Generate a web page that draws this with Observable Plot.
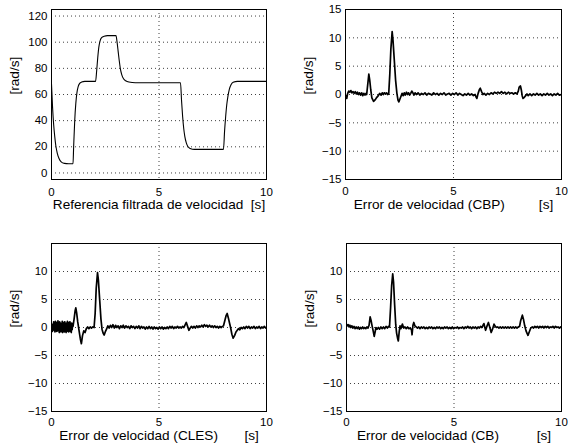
<!DOCTYPE html>
<html><head><meta charset="utf-8">
<script src="https://cdn.jsdelivr.net/npm/d3@7"></script>
<script src="https://cdn.jsdelivr.net/npm/@observablehq/plot@0.6"></script>
<style>
body{margin:0;background:#fff;}
#wrap{position:relative;width:568px;height:447px;overflow:hidden;background:#fff;}
.p{position:absolute;}
</style></head><body><div id="wrap"></div>
<script>
// ---- data ----
const xTicks = [0, 5, 10];
const refTicks = [0, 20, 40, 60, 80, 100, 120];
const errTicksTop = [-15, -10, -5, 0, 5, 10, 15];
const errTicksBottom = [-15, -10, -5, 0, 5, 10];

const refT = [0,0.05,0.1,0.15,0.2,0.27,0.35,0.45,0.6,0.8,1.0,1.03,1.08,1.13,1.18,1.24,1.31,1.4,1.55,2.05,2.1,2.15,2.2,2.26,2.33,2.45,2.6,3.0,3.05,3.1,3.15,3.2,3.27,3.35,3.45,3.6,3.9,6.0,6.05,6.1,6.15,6.2,6.27,6.35,6.45,6.65,8.0,8.05,8.1,8.15,8.2,8.27,8.35,8.45,8.65,10];
const refV = [68,50,37,28,21,15,11,8.5,7.3,7,7,20,40,53,61,66,68.5,69.5,70,70,78,88,96,101,103.5,104.5,105,105,100,93,86,80,75,72,70.5,69.5,69,69,55,43,34,28,23,20,18.7,18,18,32,43,52,58,64,67.5,69.3,70,70];

const errCBP = [[0,-0.6],[0.03,-0.2],[0.06,-0.7],[0.1,0.2],[0.15,0.6],[0.2,0.4],[0.25,0.7],[0.3,0.3],[0.35,0.5],[0.4,0.2],[0.45,0.5],[0.5,0.1],[0.55,0.4],[0.6,0.0],[0.65,0.3],[0.7,-0.1],[0.75,0.3],[0.8,-0.2],[0.85,0.2],[0.9,-0.1],[0.95,0.2],[0.98,0.0],[1.03,1.8],[1.08,3.6],[1.12,2.6],[1.17,0.8],[1.22,-0.6],[1.3,-1.2],[1.38,-0.9],[1.45,-0.5],[1.52,-0.2],[1.58,0.2],[1.65,-0.1],[1.7,0.3],[1.75,0.0],[1.8,0.3],[1.85,0.1],[1.9,0.3],[1.95,0.0],[2.0,0.1],[2.05,3.5],[2.1,8.0],[2.16,11.1],[2.2,9.5],[2.26,6.0],[2.32,2.5],[2.38,0.2],[2.43,-1.0],[2.47,-1.3],[2.52,-0.8],[2.57,-0.3],[2.62,0.2],[2.67,-0.2],[2.72,0.3],[2.77,-0.1],[2.82,0.4],[2.87,0.0],[2.92,0.3],[2.97,-0.1],[3.02,0.2],[3.07,0.6],[3.12,0.3],[3.17,-0.1],[3.22,0.3],[3.28,0.0],[3.36,0.3],[3.44,-0.1],[3.52,0.2],[3.6,0.0],[3.68,0.3],[3.76,-0.1],[3.84,0.2],[3.92,0.1],[4.0,-0.1],[4.08,0.3],[4.16,0.0],[4.24,0.2],[4.32,-0.1],[4.4,0.2],[4.48,0.0],[4.56,0.3],[4.64,-0.1],[4.72,0.1],[4.8,0.2],[4.88,-0.1],[4.96,0.2],[5.04,0.0],[5.12,0.3],[5.2,-0.1],[5.28,0.2],[5.36,0.0],[5.44,-0.2],[5.52,0.1],[5.6,-0.1],[5.68,0.2],[5.76,-0.1],[5.84,0.1],[5.92,-0.2],[6.0,0.0],[6.04,-0.4],[6.08,-0.7],[6.14,0.2],[6.2,0.9],[6.24,1.1],[6.3,0.5],[6.36,0.0],[6.42,0.2],[6.5,-0.1],[6.58,0.2],[6.66,0.0],[6.74,0.3],[6.82,0.1],[6.9,0.4],[6.98,0.2],[7.06,0.4],[7.14,0.2],[7.22,0.5],[7.3,0.2],[7.38,0.4],[7.46,0.1],[7.54,0.4],[7.62,0.2],[7.7,0.3],[7.78,0.1],[7.86,0.3],[7.94,0.1],[8.0,0.6],[8.04,1.3],[8.1,1.5],[8.14,0.8],[8.18,-0.2],[8.22,-0.7],[8.28,-0.5],[8.34,-0.2],[8.4,0.1],[8.46,-0.2],[8.54,0.1],[8.62,-0.2],[8.7,0.1],[8.78,-0.1],[8.86,0.2],[8.94,-0.1],[9.02,0.1],[9.1,-0.2],[9.18,0.1],[9.26,-0.1],[9.34,0.2],[9.42,-0.1],[9.5,0.1],[9.58,-0.2],[9.66,0.1],[9.74,-0.1],[9.82,0.2],[9.9,-0.1],[10,0.0]];

const errCLES = [[0,-0.6],[0.02,-0.2],[0.04,-0.7],[0.06,0.6],[0.08,-0.5],[0.1,1.0],[0.12,-0.4],[0.14,0.7],[0.16,-0.8],[0.18,1.1],[0.2,-0.3],[0.22,0.9],[0.24,-0.7],[0.26,0.5],[0.28,-0.6],[0.3,1.2],[0.32,-0.5],[0.34,0.7],[0.36,-0.9],[0.38,1.0],[0.4,-0.3],[0.42,0.8],[0.44,-0.8],[0.46,0.6],[0.48,-0.5],[0.5,1.1],[0.52,-0.9],[0.54,0.7],[0.56,-0.6],[0.58,0.9],[0.6,-0.8],[0.62,1.0],[0.64,-0.4],[0.66,0.6],[0.68,-0.9],[0.7,0.8],[0.72,-0.7],[0.74,1.1],[0.76,-0.5],[0.78,0.7],[0.8,-0.8],[0.82,0.9],[0.84,-0.6],[0.86,1.0],[0.88,-0.7],[0.9,0.5],[0.92,-0.9],[0.94,0.8],[0.96,-0.4],[0.98,0.6],[1.0,0.2],[1.05,1.5],[1.1,3.0],[1.13,3.5],[1.17,2.6],[1.22,1.0],[1.28,-0.5],[1.34,-2.0],[1.39,-2.9],[1.44,-1.5],[1.5,-0.6],[1.56,-0.9],[1.62,-0.2],[1.68,0.1],[1.74,-0.2],[1.8,0.1],[1.86,-0.1],[1.92,0.1],[1.98,0.0],[2.03,2.5],[2.08,7.0],[2.14,9.8],[2.18,8.5],[2.24,5.0],[2.3,1.5],[2.35,-0.3],[2.4,-1.0],[2.45,-1.35],[2.5,-0.8],[2.56,-0.3],[2.62,0.3],[2.68,-0.1],[2.74,0.4],[2.8,0.0],[2.86,0.5],[2.92,-0.1],[2.98,0.4],[3.04,0.0],[3.1,0.3],[3.16,-0.2],[3.22,0.3],[3.28,0.0],[3.34,0.4],[3.4,-0.1],[3.46,0.3],[3.52,0.0],[3.58,0.2],[3.64,-0.2],[3.7,0.3],[3.76,0.0],[3.82,0.2],[3.88,-0.2],[3.94,0.2],[4.0,-0.1],[4.06,0.3],[4.12,-0.2],[4.18,0.2],[4.24,-0.1],[4.3,0.1],[4.36,-0.3],[4.42,0.1],[4.48,-0.2],[4.54,0.2],[4.6,-0.2],[4.66,0.1],[4.72,-0.3],[4.78,0.1],[4.84,-0.2],[4.9,0.0],[4.96,-0.3],[5.02,0.1],[5.08,-0.2],[5.14,0.1],[5.2,-0.3],[5.26,0.0],[5.32,-0.2],[5.38,0.1],[5.44,-0.2],[5.5,0.2],[5.56,-0.1],[5.62,0.2],[5.68,-0.2],[5.74,0.1],[5.8,-0.1],[5.86,0.2],[5.92,-0.1],[5.98,0.1],[6.04,-0.1],[6.1,0.2],[6.16,0.0],[6.22,0.5],[6.27,0.9],[6.33,0.2],[6.39,-0.5],[6.45,-0.1],[6.51,0.2],[6.57,-0.1],[6.63,0.2],[6.69,-0.1],[6.75,0.3],[6.81,0.0],[6.87,0.3],[6.93,0.1],[6.99,0.4],[7.05,0.1],[7.11,0.5],[7.17,0.2],[7.23,0.4],[7.29,0.1],[7.35,0.4],[7.41,0.1],[7.47,0.3],[7.53,0.0],[7.59,0.3],[7.65,0.0],[7.71,0.2],[7.77,-0.1],[7.83,0.2],[7.89,0.0],[7.95,0.2],[8.0,0.3],[8.06,1.2],[8.12,2.1],[8.17,2.5],[8.22,1.8],[8.28,0.8],[8.33,0.0],[8.39,-1.2],[8.45,-1.9],[8.52,-1.4],[8.58,-0.8],[8.64,-0.5],[8.7,-0.2],[8.76,-0.4],[8.82,0.0],[8.88,-0.2],[8.94,0.1],[9.0,-0.2],[9.06,0.2],[9.12,-0.1],[9.18,0.2],[9.24,-0.2],[9.3,0.1],[9.36,-0.1],[9.42,0.2],[9.48,-0.2],[9.54,0.1],[9.6,-0.1],[9.66,0.2],[9.72,-0.2],[9.78,0.1],[9.84,-0.1],[9.9,0.2],[9.96,-0.1],[10,0.0]];

const errCB = [[0,0.6],[0.04,0.3],[0.08,0.5],[0.12,0.1],[0.16,0.4],[0.2,0.0],[0.25,0.3],[0.3,-0.1],[0.35,0.2],[0.4,-0.2],[0.45,0.1],[0.5,-0.2],[0.55,0.1],[0.6,-0.3],[0.65,0.0],[0.7,-0.2],[0.75,0.1],[0.8,-0.2],[0.85,0.0],[0.9,-0.2],[0.95,0.1],[1.0,-0.1],[1.05,0.4],[1.1,1.9],[1.14,1.3],[1.19,0.3],[1.24,-0.6],[1.29,-1.6],[1.33,-0.8],[1.37,0.0],[1.42,-0.3],[1.48,0.0],[1.54,-0.3],[1.6,0.1],[1.66,-0.2],[1.72,0.1],[1.78,-0.2],[1.84,0.2],[1.9,-0.1],[1.96,0.2],[2.0,0.1],[2.05,3.5],[2.1,7.5],[2.15,9.6],[2.19,8.0],[2.24,4.0],[2.29,0.5],[2.33,-1.0],[2.38,-2.0],[2.41,-2.4],[2.45,-0.8],[2.49,0.3],[2.53,-0.2],[2.6,0.6],[2.66,-0.1],[2.72,0.1],[2.78,-0.2],[2.84,0.1],[2.9,-0.2],[2.96,-0.1],[3.02,-0.4],[3.05,-1.3],[3.09,0.4],[3.13,0.9],[3.18,0.3],[3.24,0.1],[3.3,-0.1],[3.36,0.1],[3.42,-0.2],[3.48,0.1],[3.54,-0.1],[3.6,0.1],[3.66,-0.2],[3.72,0.0],[3.78,-0.2],[3.84,0.1],[3.9,-0.1],[3.96,0.1],[4.02,-0.2],[4.08,0.0],[4.14,-0.2],[4.2,0.1],[4.26,-0.1],[4.32,0.1],[4.38,-0.2],[4.44,0.0],[4.5,-0.2],[4.56,0.1],[4.62,-0.1],[4.68,0.1],[4.74,-0.2],[4.8,0.0],[4.86,-0.2],[4.92,0.1],[4.98,-0.2],[5.04,0.0],[5.1,-0.1],[5.16,0.1],[5.22,-0.2],[5.28,0.0],[5.34,-0.1],[5.4,0.1],[5.46,-0.2],[5.52,0.1],[5.58,-0.1],[5.64,0.2],[5.7,-0.1],[5.76,0.1],[5.82,-0.2],[5.88,0.1],[5.94,-0.1],[6.0,0.1],[6.06,-0.2],[6.12,0.1],[6.18,-0.1],[6.24,0.2],[6.3,0.0],[6.35,0.4],[6.39,0.7],[6.43,0.1],[6.47,-0.5],[6.53,0.2],[6.6,0.9],[6.66,0.1],[6.73,-0.9],[6.8,-0.2],[6.86,0.6],[6.92,0.2],[6.97,0.0],[7.03,0.1],[7.09,-0.1],[7.15,0.1],[7.21,-0.1],[7.27,0.1],[7.33,-0.1],[7.39,0.1],[7.45,-0.1],[7.51,0.1],[7.57,-0.1],[7.63,0.1],[7.69,-0.1],[7.75,0.1],[7.81,-0.1],[7.87,0.1],[7.93,-0.1],[7.99,0.1],[8.05,0.2],[8.1,1.2],[8.18,2.2],[8.23,1.5],[8.29,0.3],[8.35,-0.6],[8.44,-1.4],[8.5,-0.8],[8.57,-0.1],[8.64,0.1],[8.7,-0.1],[8.76,0.2],[8.82,0.0],[8.88,0.2],[8.94,-0.1],[9.0,0.2],[9.06,0.0],[9.12,0.2],[9.18,-0.1],[9.24,0.2],[9.3,0.0],[9.36,0.2],[9.42,-0.1],[9.48,0.1],[9.54,0.0],[9.6,0.2],[9.66,-0.1],[9.72,0.2],[9.78,0.0],[9.84,0.1],[9.9,-0.1],[9.96,0.1],[10,0.0]];

const yLabel = "[rad/s]";
const NB = "\u00A0";
const xLabels = [
  "Referencia filtrada de velocidad" + NB.repeat(2) + "[s]",
  "Error de velocidad (CBP)" + NB.repeat(9) + "[s]",
  "Error de velocidad (CLES)" + NB.repeat(7) + "[s]",
  "Error de velocidad (CB)" + NB.repeat(10) + "[s]"
];

// ---- drawing ----
const FONT = '"Liberation Sans", Arial, Helvetica, sans-serif';
function panel(o) {
  const grid = {stroke: "#000", strokeWidth: 1, strokeDasharray: "1,3", strokeOpacity: 0.75};
  const svg = Plot.plot({
    width: o.w, height: o.h,
    marginLeft: o.ml, marginRight: o.mr, marginTop: o.mt, marginBottom: o.mb,
    style: {fontFamily: FONT, fontSize: "11.5px", color: "black", background: "white", overflow: "visible"},
    x: {domain: [0, 10], label: null},
    y: {domain: o.yDomain, label: null},
    marks: [
      Plot.ruleY(o.yTicks, {y: d => d, ...grid}),
      Plot.ruleX(xTicks, {x: d => d, ...grid}),
      Plot.line(o.data, {x: o.x, y: o.y, stroke: "black", strokeWidth: o.sw, curve: o.curve, clip: true}),
      Plot.frame({stroke: "black", strokeWidth: 1}),
      Plot.axisX({ticks: xTicks, tickSize: 0, tickPadding: o.tp, fontSize: 11.5, label: null, fill: "black"}),
      Plot.axisY({ticks: o.yTicks, tickSize: 0, tickPadding: 4, fontSize: 11.5, label: null, fill: "black"}),
      Plot.text([o.xlabel], {text: d => d, frameAnchor: "bottom", dy: o.ldy, fontSize: 13.6, fill: "black"}),
      Plot.text([yLabel], {text: d => d, frameAnchor: "left", dx: -37, rotate: -90, fontSize: 13.6, fill: "black"})
    ]
  });
  const div = document.createElement("div");
  div.className = "p";
  div.style.left = o.left + "px";
  div.style.top = o.top + "px";
  div.appendChild(svg);
  document.getElementById("wrap").appendChild(div);
}

const refData = refT.map((t, i) => ({t, v: refV[i]}));
panel({data: refData, x: "t", y: "v", curve: "monotone-x", sw: 1.1, yDomain: [-5, 125], yTicks: refTicks,
  left: 0, top: 0, w: 284, h: 224, ml: 51, mr: 18, mt: 9, mb: 45, xlabel: xLabels[0], ldy: 29, tp: 8});
panel({data: errCBP, x: d => d[0], y: d => d[1], curve: "linear", sw: 1.7, yDomain: [-15, 15], yTicks: errTicksTop,
  left: 284, top: 0, w: 284, h: 224, ml: 61, mr: 7, mt: 9, mb: 45, xlabel: xLabels[1], ldy: 29.5, tp: 7.5});
panel({data: errCLES, x: d => d[0], y: d => d[1], curve: "linear", sw: 1.7, yDomain: [-15, 15], yTicks: errTicksBottom,
  left: 0, top: 224, w: 284, h: 223, ml: 51, mr: 18, mt: 19, mb: 36, xlabel: xLabels[2], ldy: 28.5, tp: 6});
panel({data: errCB, x: d => d[0], y: d => d[1], curve: "linear", sw: 1.7, yDomain: [-15, 15], yTicks: errTicksBottom,
  left: 284, top: 224, w: 284, h: 223, ml: 62, mr: 7, mt: 19, mb: 36, xlabel: xLabels[3], ldy: 28.5, tp: 6});
</script></body></html>
